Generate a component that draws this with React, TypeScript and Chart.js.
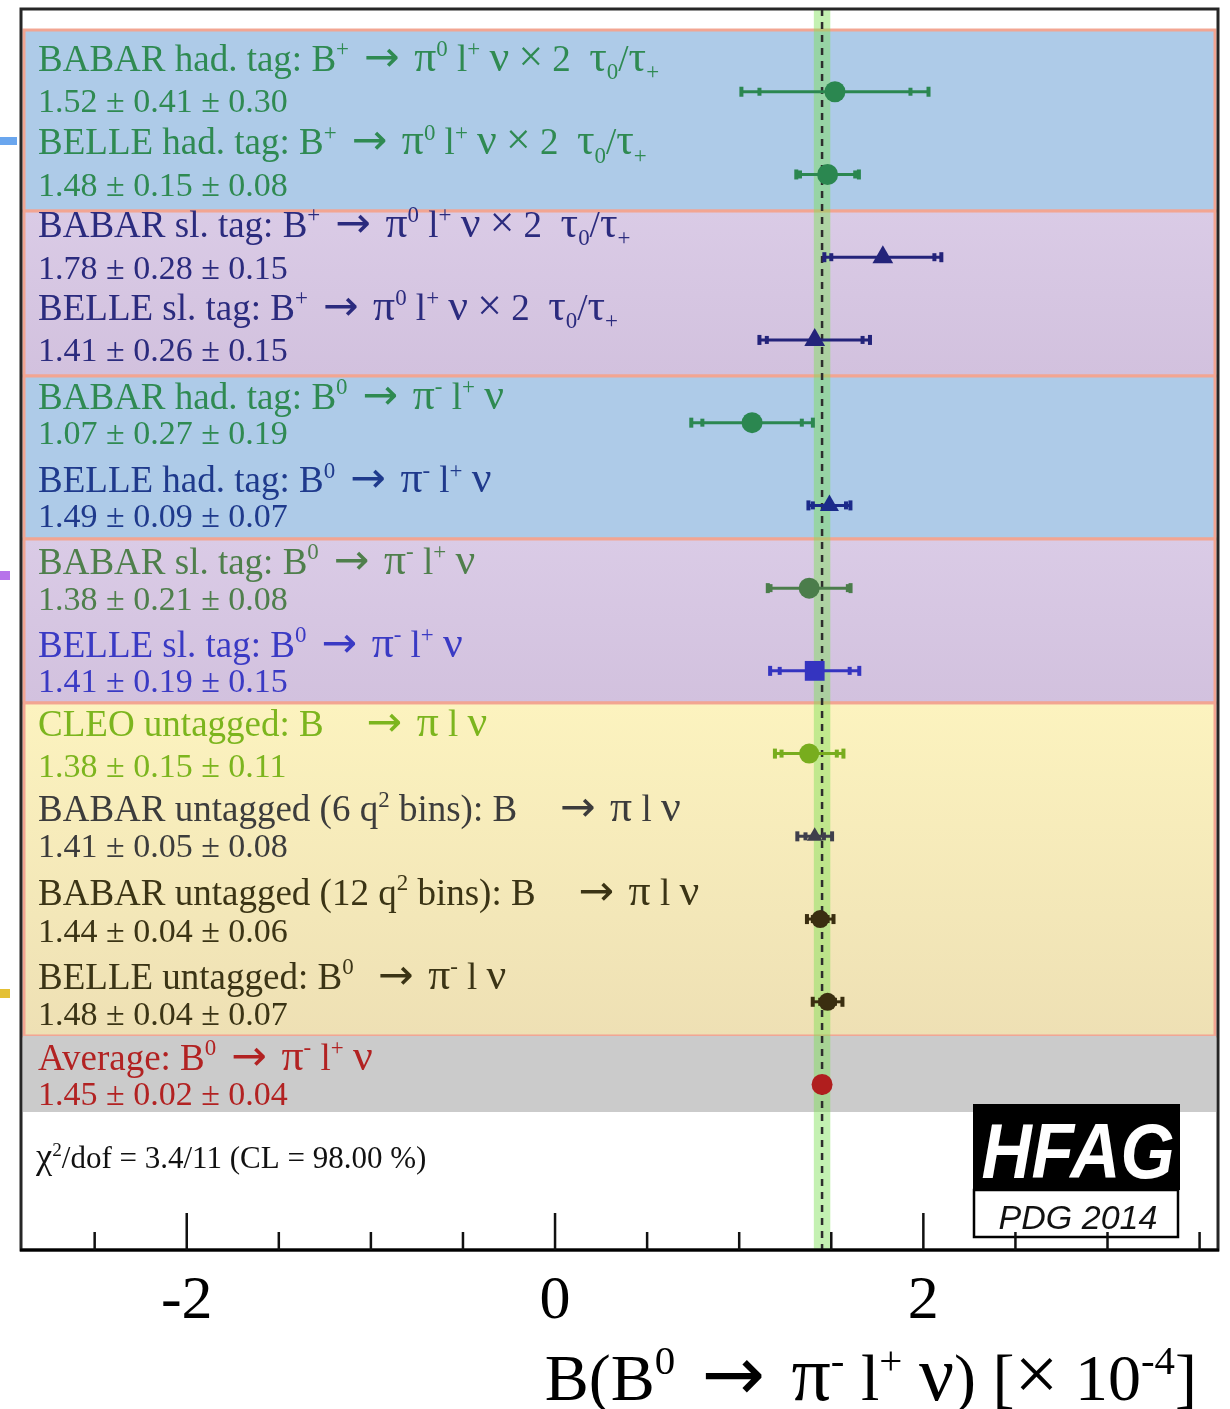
import React, { useEffect, useRef } from "react";
import { Chart, registerables } from "chart.js";

Chart.register(...registerables);

// Measurements of B(B0 -> pi- l+ nu) in units of 1e-4
const rowLabels = [
  "BABAR had. tag: B^{+} → π^{0} l^{+} ν × 2  τ_{0}/τ_{+}",
  "BELLE had. tag: B^{+} → π^{0} l^{+} ν × 2  τ_{0}/τ_{+}",
  "BABAR sl. tag: B^{+} → π^{0} l^{+} ν × 2  τ_{0}/τ_{+}",
  "BELLE sl. tag: B^{+} → π^{0} l^{+} ν × 2  τ_{0}/τ_{+}",
  "BABAR had. tag: B^{0} → π^{-} l^{+} ν",
  "BELLE had. tag: B^{0} → π^{-} l^{+} ν",
  "BABAR sl. tag: B^{0} → π^{-} l^{+} ν",
  "BELLE sl. tag: B^{0} → π^{-} l^{+} ν",
  "CLEO untagged: B    → π l ν",
  "BABAR untagged (6 q^{2} bins): B    → π l ν",
  "BABAR untagged (12 q^{2} bins): B    → π l ν",
  "BELLE untagged: B^{0}  → π^{-} l ν",
  "Average: B^{0} → π^{-} l^{+} ν",
];
const centralValues = [1.52, 1.48, 1.78, 1.41, 1.07, 1.49, 1.38, 1.41, 1.38, 1.41, 1.44, 1.48, 1.45];
const statErrors = [0.41, 0.15, 0.28, 0.26, 0.27, 0.09, 0.21, 0.19, 0.15, 0.05, 0.04, 0.04, 0.02];
const systErrors = [0.30, 0.08, 0.15, 0.15, 0.19, 0.07, 0.08, 0.15, 0.11, 0.08, 0.06, 0.07, 0.04];
const averageIndex = 12;

const chi2Label = "χ^{2}/dof = 3.4/11 (CL = 98.00 %)";
const axisTitle = "B(B^{0} → π^{-} l^{+} ν) [× 10^{-4}]";
const majorTicks = [-2, 0, 2];
const minorTicks = [-2.5, -1.5, -1, -0.5, 0.5, 1, 1.5, 2.5, 3, 3.5];

// Background group bands (edges in row units) and their fills
const bandEdges = [-0.746, 1.442, 3.436, 5.406, 7.388, 11.413, 12.332];
const bandTopColors = ["#aecbe8", "#dacbe6", "#aecbe8", "#dacbe6", "#fcf3bf", "#cbcbcb"];
const bandBottomColors = ["#aecbe8", "#d2c1de", "#aecbe8", "#d2c1de", "#eee0b4", "#cbcbcb"];
const bandOutlined = [true, true, true, true, true, false];

// Marker and text styling per row
const markerStyles = ["circle", "circle", "triangle", "triangle", "circle", "triangle", "circle", "rect", "circle", "triangle", "circle", "circle", "circle"];
const markerRadii = [10.5, 10.5, 12, 12, 10.5, 11, 10.5, 14, 10, 9, 9, 9, 10.5];
const markerColors = ["#2b8750", "#2b8750", "#23237a", "#23237a", "#2b8750", "#1b2a8a", "#4b7d4b", "#3434c0", "#78ad1e", "#3f3f4c", "#3a2e10", "#3a2e10", "#b01e1e"];
const textColors = ["#2f8a52", "#2f8a52", "#2b2b7e", "#2b2b7e", "#2f8a52", "#1f3a8c", "#4f7f4c", "#3a3ac4", "#7cb51e", "#3c3c3c", "#3b3415", "#3b3415", "#b22222"];
const labelLift = [21, 20, 20, 20, 14, 13, 14, 14, 18, 15, 14, 13, 15];
const valueDrop = [20, 22, 22, 21, 21, 22, 22, 21, 23, 21, 23, 23, 20];

const SERIF = "'Liberation Serif', 'DejaVu Serif', serif";
const SANS = "'Liberation Sans', Arial, sans-serif";
const MATH_CHARS = /[πντχ×→]/;

type Seg = { t: string; k: number };

function parseRich(s: string): Seg[] {
  const segs: Seg[] = [];
  const re = /(\^|_)\{([^}]*)\}/g;
  let last = 0;
  let m: RegExpExecArray | null;
  while ((m = re.exec(s))) {
    if (m.index > last) segs.push({ t: s.slice(last, m.index), k: 0 });
    segs.push({ t: m[2], k: m[1] === "^" ? 1 : -1 });
    last = re.lastIndex;
  }
  if (last < s.length) segs.push({ t: s.slice(last), k: 0 });
  return segs;
}

// split a segment into plain runs and single math glyphs
function splitRuns(t: string): string[] {
  const out: string[] = [];
  let buf = "";
  for (const ch of t) {
    if (MATH_CHARS.test(ch)) {
      if (buf) out.push(buf);
      out.push(ch);
      buf = "";
    } else buf += ch;
  }
  if (buf) out.push(buf);
  return out;
}

function fontFor(run: string, size: number): string {
  if (run === "→") return `${size * 1.15}px 'DejaVu Sans', ${SERIF}`;
  if (run.length === 1 && MATH_CHARS.test(run)) return `${size * 1.18}px ${SERIF}`;
  return `${size}px ${SERIF}`;
}

function drawRich(
  ctx: CanvasRenderingContext2D,
  s: string,
  x: number,
  y: number,
  size: number,
  color: string,
  align: "left" | "right" = "left"
) {
  const pieces: { t: string; font: string; dy: number; w: number; pad: number }[] = [];
  parseRich(s).forEach((g) => {
    const sz = g.k ? size * 0.62 : size;
    const dy = g.k === 1 ? -size * 0.4 : g.k === -1 ? size * 0.22 : 0;
    splitRuns(g.t).forEach((r) => {
      const font = fontFor(r, sz);
      ctx.font = font;
      const pad = r === "→" ? sz * 0.15 : 0;
      pieces.push({ t: r, font, dy, w: ctx.measureText(r).width + 2 * pad, pad });
    });
  });
  const total = pieces.reduce((a, p) => a + p.w, 0);
  let cx = align === "right" ? x - total : x;
  ctx.fillStyle = color;
  ctx.textAlign = "left";
  ctx.textBaseline = "alphabetic";
  pieces.forEach((p) => {
    ctx.font = p.font;
    ctx.fillText(p.t, cx + p.pad, y + p.dy);
    cx += p.w;
  });
}

const totalError = (i: number) => Math.hypot(statErrors[i], systErrors[i]);

const backdropPlugin = {
  id: "backdrop",
  beforeDatasetsDraw(chart: any) {
    const { ctx, chartArea: a, scales } = chart;
    const xs = scales.x;
    const ys = scales.y;
    ctx.save();
    ctx.fillStyle = "#ffffff";
    ctx.fillRect(a.left, a.top, a.right - a.left, a.bottom - a.top);

    // group bands
    for (let b = 0; b < bandTopColors.length; b++) {
      const y0 = ys.getPixelForValue(bandEdges[b]);
      const y1 = ys.getPixelForValue(bandEdges[b + 1]);
      const g = ctx.createLinearGradient(0, y0, 0, y1);
      g.addColorStop(0, bandTopColors[b]);
      g.addColorStop(1, bandBottomColors[b]);
      ctx.fillStyle = g;
      const x0 = a.left + 2;
      const x1 = a.right - 2;
      ctx.fillRect(x0, y0, x1 - x0, y1 - y0);
      if (bandOutlined[b]) {
        ctx.strokeStyle = "#f2a592";
        ctx.lineWidth = 3;
        ctx.strokeRect(x0 + 1, y0, x1 - x0 - 2, y1 - y0);
      }
    }

    // average band and central line
    const avg = centralValues[averageIndex];
    const err = totalError(averageIndex);
    const bx0 = xs.getPixelForValue(avg - err);
    const bx1 = xs.getPixelForValue(avg + err);
    ctx.fillStyle = "rgba(125, 225, 85, 0.45)";
    ctx.fillRect(bx0, a.top, bx1 - bx0, a.bottom - a.top);
    const ax = xs.getPixelForValue(avg);
    ctx.strokeStyle = "#2d2d2d";
    ctx.lineWidth = 2.5;
    ctx.setLineDash([7, 6]);
    ctx.beginPath();
    ctx.moveTo(ax, a.top);
    ctx.lineTo(ax, a.bottom);
    ctx.stroke();
    ctx.setLineDash([]);

    // error bars: inner caps = statistical, outer caps = total
    centralValues.forEach((v, i) => {
      if (i === averageIndex) return;
      const y = ys.getPixelForValue(i);
      const tot = totalError(i);
      const lo = xs.getPixelForValue(v - tot);
      const hi = xs.getPixelForValue(v + tot);
      const slo = xs.getPixelForValue(v - statErrors[i]);
      const shi = xs.getPixelForValue(v + statErrors[i]);
      ctx.strokeStyle = markerColors[i];
      ctx.fillStyle = markerColors[i];
      ctx.lineWidth = 3;
      ctx.beginPath();
      ctx.moveTo(lo, y);
      ctx.lineTo(hi, y);
      ctx.stroke();
      [lo, hi].forEach((px) => ctx.fillRect(px - 2, y - 5, 4, 10));
      [slo, shi].forEach((px) => ctx.fillRect(px - 2, y - 4, 4, 8));
    });
    ctx.restore();
  },
  afterDatasetsDraw(chart: any) {
    const { ctx, chartArea: a, scales } = chart;
    const xs = scales.x;
    const ys = scales.y;
    ctx.save();

    // row labels and values
    rowLabels.forEach((lab, i) => {
      const y = ys.getPixelForValue(i);
      drawRich(ctx, lab, 38, y - labelLift[i], 37, textColors[i]);
      const val = `${centralValues[i].toFixed(2)} ± ${statErrors[i].toFixed(2)} ± ${systErrors[i].toFixed(2)}`;
      drawRich(ctx, val, 38, y + valueDrop[i], 34, textColors[i]);
    });

    drawRich(ctx, chi2Label, 36, 1168, 31, "#111111");

    // logo
    ctx.fillStyle = "#000000";
    ctx.fillRect(973, 1104, 207, 86);
    ctx.fillStyle = "#ffffff";
    ctx.fillRect(974, 1190, 204, 47);
    ctx.strokeStyle = "#000000";
    ctx.lineWidth = 2.5;
    ctx.strokeRect(974, 1190, 204, 47);
    ctx.save();
    ctx.translate(1078, 1178);
    ctx.scale(0.94, 1.05);
    ctx.fillStyle = "#ffffff";
    ctx.font = `italic bold 74px ${SANS}`;
    ctx.textAlign = "center";
    ctx.fillText("HFAG", 0, 0);
    ctx.restore();
    ctx.fillStyle = "#111111";
    ctx.font = `italic 34px ${SANS}`;
    ctx.textAlign = "center";
    ctx.fillText("PDG 2014", 1078, 1229);

    // frame
    ctx.strokeStyle = "#262626";
    ctx.lineWidth = 3;
    ctx.strokeRect(a.left, a.top, a.right - a.left, a.bottom - a.top);
    ctx.strokeStyle = "#000000";
    ctx.beginPath();
    ctx.moveTo(a.left - 1, a.bottom);
    ctx.lineTo(a.right + 1, a.bottom);
    ctx.stroke();

    // ticks pointing inward
    ctx.lineWidth = 2.5;
    ctx.strokeStyle = "#111111";
    ctx.beginPath();
    majorTicks.forEach((t) => {
      const px = xs.getPixelForValue(t);
      ctx.moveTo(px, a.bottom);
      ctx.lineTo(px, a.bottom - 37);
    });
    minorTicks.forEach((t) => {
      const px = xs.getPixelForValue(t);
      ctx.moveTo(px, a.bottom);
      ctx.lineTo(px, a.bottom - 18);
    });
    ctx.stroke();

    ctx.fillStyle = "#000000";
    ctx.font = `62px ${SERIF}`;
    ctx.textAlign = "center";
    majorTicks.forEach((t) => {
      ctx.fillText(String(t), xs.getPixelForValue(t), a.bottom + 68);
    });

    drawRich(ctx, axisTitle, 1197, 1400, 66, "#000000", "right");

    // small colour swatches clipped at the left margin
    ctx.fillStyle = "rgba(80, 150, 235, 0.85)";
    ctx.fillRect(0, 137, 17, 8);
    ctx.fillStyle = "rgba(170, 90, 230, 0.85)";
    ctx.fillRect(0, 571, 10, 9);
    ctx.fillStyle = "rgba(225, 185, 30, 0.9)";
    ctx.fillRect(0, 989, 10, 9);
    ctx.restore();
  },
};

export default function App() {
  const canvasRef = useRef<HTMLCanvasElement | null>(null);

  useEffect(() => {
    const canvas = canvasRef.current;
    if (!canvas) return;
    const chart = new Chart(canvas, {
      type: "scatter",
      data: {
        datasets: [
          {
            data: centralValues.map((v, i) => ({ x: v, y: i })),
            pointStyle: markerStyles as any,
            pointRadius: markerRadii,
            backgroundColor: markerColors,
            borderColor: markerColors,
            borderWidth: 0,
          },
        ],
      },
      options: {
        responsive: false,
        animation: false,
        devicePixelRatio: 1,
        layout: { autoPadding: false, padding: { left: 21, top: 9, right: 12, bottom: 159 } },
        plugins: { legend: { display: false }, tooltip: { enabled: false } },
        scales: {
          x: { type: "linear", min: -2.9, max: 3.6, display: false },
          y: { type: "linear", min: -1, max: 14, reverse: true, display: false },
        },
      },
      plugins: [backdropPlugin],
    });
    return () => chart.destroy();
  }, []);

  return (
    <div style={{ position: "absolute", left: 0, top: 0, width: 1230, height: 1409, background: "#ffffff" }}>
      <canvas ref={canvasRef} width={1230} height={1409} style={{ display: "block" }} />
    </div>
  );
}
